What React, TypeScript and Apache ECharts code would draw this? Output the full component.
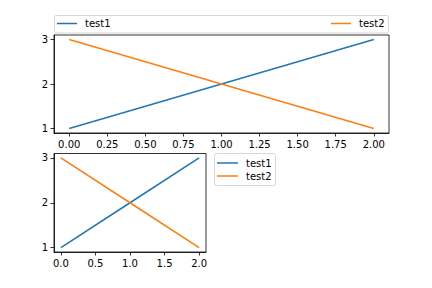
import React, { useEffect, useRef } from "react";
import * as echarts from "echarts";

const xValues = [0, 1, 2];
const test1 = [1, 2, 3];
const test2 = [3, 2, 1];
const seriesNames = ["test1", "test2"];
const topXTicks = [0, 0.25, 0.5, 0.75, 1, 1.25, 1.5, 1.75, 2];
const bottomXTicks = [0, 0.5, 1, 1.5, 2];
const yTicks = [1, 2, 3];

const BLUE = "#1f77b4";
const ORANGE = "#ff7f0e";
const FONT = "DejaVu Sans";

const toPairs = (ys: number[]) => xValues.map((x, i) => [x, ys[i]]);

function xAxisFor(gridIndex: number, ticks: number[], digits: number) {
  return {
    type: "value",
    gridIndex,
    min: -0.1,
    max: 2.1,
    splitLine: { show: false },
    axisLine: { show: true, onZero: false, lineStyle: { color: "#000", width: 0.8 } },
    axisTick: {
      show: true,
      inside: false,
      length: 3.5,
      customValues: ticks,
      lineStyle: { color: "#000", width: 0.8 },
    },
    axisLabel: {
      customValues: ticks,
      margin: 6,
      color: "#000",
      fontSize: 10,
      fontFamily: FONT,
      formatter: (v: number) => v.toFixed(digits),
    },
  };
}

function yAxisFor(gridIndex: number) {
  return {
    type: "value",
    gridIndex,
    min: 0.9,
    max: 3.1,
    splitLine: { show: false },
    axisLine: { show: true, onZero: false, lineStyle: { color: "#000", width: 0.8 } },
    axisTick: {
      show: true,
      inside: false,
      length: 3.5,
      customValues: yTicks,
      lineStyle: { color: "#000", width: 0.8 },
    },
    axisLabel: {
      customValues: yTicks,
      margin: 6,
      color: "#000",
      fontSize: 10,
      fontFamily: FONT,
      formatter: (v: number) => String(Math.round(v)),
    },
  };
}

function lineSeries(name: string, ys: number[], color: string, axis: number) {
  return {
    type: "line",
    name,
    data: toPairs(ys),
    xAxisIndex: axis,
    yAxisIndex: axis,
    symbol: "none",
    color,
    lineStyle: { color, width: 1.5 },
  };
}

const legendText = { color: "#000", fontSize: 10, fontFamily: FONT, padding: [0, 0, 0, 3] };
const legendCommon = {
  padding: 0,
  icon: "rect",
  itemWidth: 20,
  itemHeight: 1.5,
  textStyle: legendText,
  selectedMode: false,
};

export default function App() {
  const ref = useRef<HTMLDivElement>(null);

  useEffect(() => {
    if (!ref.current) return;
    const chart = echarts.init(ref.current, undefined, { renderer: "svg" });
    chart.setOption({
      animation: false,
      backgroundColor: "#fff",
      grid: [
        { left: 54, top: 35, width: 335, height: 98, show: true, borderColor: "#000", borderWidth: 0.8 },
        { left: 54, top: 153.5, width: 152, height: 98.5, show: true, borderColor: "#000", borderWidth: 0.8 },
      ],
      xAxis: [xAxisFor(0, topXTicks, 2), xAxisFor(1, bottomXTicks, 1)],
      yAxis: [yAxisFor(0), yAxisFor(1)],
      legend: [
        { ...legendCommon, data: [seriesNames[0]], left: 57, top: 18.5 },
        { ...legendCommon, data: [seriesNames[1]], left: 331, top: 18.5 },
        {
          ...legendCommon,
          data: seriesNames,
          orient: "vertical",
          left: 217,
          top: 158,
          itemGap: 3,
          itemWidth: 21,
        },
      ],
      graphic: [
        {
          type: "rect",
          z: -1,
          shape: { x: 54.5, y: 15.5, width: 334, height: 17.5, r: 2 },
          style: { fill: "#fff", stroke: "#cccccc", lineWidth: 0.8 },
        },
        {
          type: "rect",
          z: -1,
          shape: { x: 214.5, y: 153.5, width: 61, height: 32, r: 2 },
          style: { fill: "#fff", stroke: "#cccccc", lineWidth: 0.8 },
        },
      ],
      series: [
        lineSeries(seriesNames[0], test1, BLUE, 0),
        lineSeries(seriesNames[1], test2, ORANGE, 0),
        lineSeries(seriesNames[0], test1, BLUE, 1),
        lineSeries(seriesNames[1], test2, ORANGE, 1),
      ],
    });
    return () => chart.dispose();
  }, []);

  return (
    <div
      ref={ref}
      style={{ position: "fixed", left: 0, top: 0, width: 432, height: 288, background: "#fff" }}
    />
  );
}
